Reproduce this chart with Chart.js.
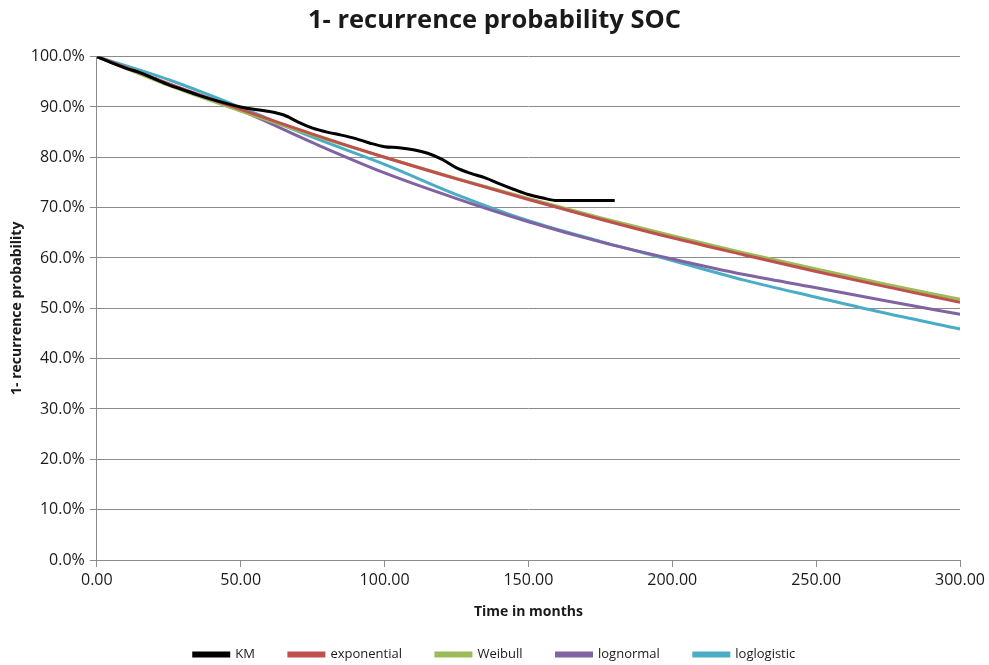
<!DOCTYPE html>
<html lang="en">
<head>
    <meta charset="UTF-8">
    <title>1- recurrence probability SOC</title>
    <script src="https://cdn.jsdelivr.net/npm/chart.js@4.4.0/dist/chart.umd.min.js"></script>
    <style>
        html, body { margin: 0; padding: 0; background: #fff; }
        #wrap { width: 989px; height: 665px; position: relative; }
    </style>
</head>
<body>
<div id="wrap"><canvas id="myChart"></canvas></div>

<script>
// values (months, percent)
const kmMonths = [0, 5, 10, 15, 20, 25, 30, 35, 40, 45, 50, 55, 60, 65, 70, 75, 80, 85, 90, 95, 100, 105, 110, 115, 120, 125, 130, 135, 140, 145, 150, 155, 160, 170, 180]
const kmValues = [100, 98.8, 97.7, 96.8, 95.6, 94.4, 93.4, 92.4, 91.5, 90.7, 90.0, 89.5, 89.1, 88.4, 87.0, 85.8, 85.0, 84.4, 83.7, 82.8, 82.1, 81.9, 81.5, 80.8, 79.6, 77.9, 76.8, 75.9, 74.7, 73.6, 72.6, 71.9, 71.4, 71.4, 71.4]

const fitMonths   = [0, 25, 50, 75, 100, 125, 150, 175, 200, 225, 250, 275, 300]
const exponential = [100, 94.6, 89.5, 84.6, 80.0, 75.7, 71.6, 67.7, 64.0, 60.6, 57.3, 54.2, 51.2]
const weibull     = [100, 94.3, 89.2, 84.4, 80.0, 75.8, 71.8, 68.0, 64.4, 61.0, 57.8, 54.7, 51.8]
const lognormal   = [100, 94.6, 89.3, 82.9, 76.9, 71.8, 67.2, 63.2, 59.8, 56.7, 54.1, 51.4, 48.8]
const loglogistic = [100, 95.4, 89.9, 84.0, 78.6, 72.6, 67.4, 63.3, 59.5, 55.6, 52.2, 48.9, 45.9]

const xTicks = [0, 50, 100, 150, 200, 250, 300]
const yTicks = [0, 10, 20, 30, 40, 50, 60, 70, 80, 90, 100]

function pts(xs, ys) {
    return xs.map((x, i) => ({ x: x, y: ys[i] }))
}

function line(label, xs, ys, color) {
    return {
        label: label,
        data: pts(xs, ys),
        borderColor: color,
        backgroundColor: color,
        borderWidth: 3,
        pointRadius: 0,
        showLine: true,
        cubicInterpolationMode: 'monotone',
        fill: false
    }
}

const font = "'Open Sans', 'Liberation Sans', sans-serif"
const txt = '#1a1a1a'
const gridCol = '#8c8c8c'

var ctx = document.getElementById('myChart').getContext('2d')
var myChart = new Chart(ctx, {
    type: 'scatter',
    data: {
        datasets: [
            line('KM', kmMonths, kmValues, '#000000'),
            line('exponential', fitMonths, exponential, '#C0504D'),
            line('Weibull', fitMonths, weibull, '#9BBB59'),
            line('lognormal', fitMonths, lognormal, '#8064A2'),
            line('loglogistic', fitMonths, loglogistic, '#4BACC6')
        ]
    },
    options: {
        responsive: true,
        maintainAspectRatio: false,
        animation: false,
        layout: { padding: { left: 9, right: 9, top: 4, bottom: -6 } },
        plugins: {
            title: {
                display: true,
                text: '1- recurrence probability SOC',
                color: txt,
                font: { family: font, size: 25.5, weight: 'bold' },
                padding: { top: 1, bottom: 21 }
            },
            legend: {
                position: 'bottom',
                labels: {
                    color: txt,
                    font: { family: font, size: 13 },
                    boxWidth: 35,
                    boxHeight: 3,
                    padding: 34
                }
            },
            tooltip: { enabled: false }
        },
        scales: {
            x: {
                type: 'linear',
                min: 0,
                max: 300,
                afterBuildTicks: axis => { axis.ticks = xTicks.map(v => ({ value: v })) },
                ticks: {
                    color: txt,
                    font: { family: font, size: 16 },
                    padding: 4,
                    callback: v => v.toFixed(2)
                },
                grid: { drawOnChartArea: false, drawTicks: true, tickLength: 7, color: gridCol },
                border: { color: gridCol, width: 1 },
                title: {
                    display: true,
                    text: 'Time in months',
                    color: txt,
                    font: { family: font, size: 14, weight: 'bold' },
                    padding: { top: 9, bottom: -6 }
                }
            },
            y: {
                min: 0,
                max: 100,
                afterBuildTicks: axis => { axis.ticks = yTicks.map(v => ({ value: v })) },
                ticks: {
                    color: txt,
                    font: { family: font, size: 16 },
                    padding: 5,
                    callback: v => v.toFixed(1) + '%'
                },
                grid: { color: gridCol, lineWidth: 1, tickLength: 7 },
                border: { color: gridCol, width: 1 },
                title: {
                    display: true,
                    text: '1- recurrence probability',
                    color: txt,
                    font: { family: font, size: 14, weight: 'bold' },
                    padding: { top: 0, bottom: 0 }
                }
            }
        }
    }
})
</script>
</body>
</html>
